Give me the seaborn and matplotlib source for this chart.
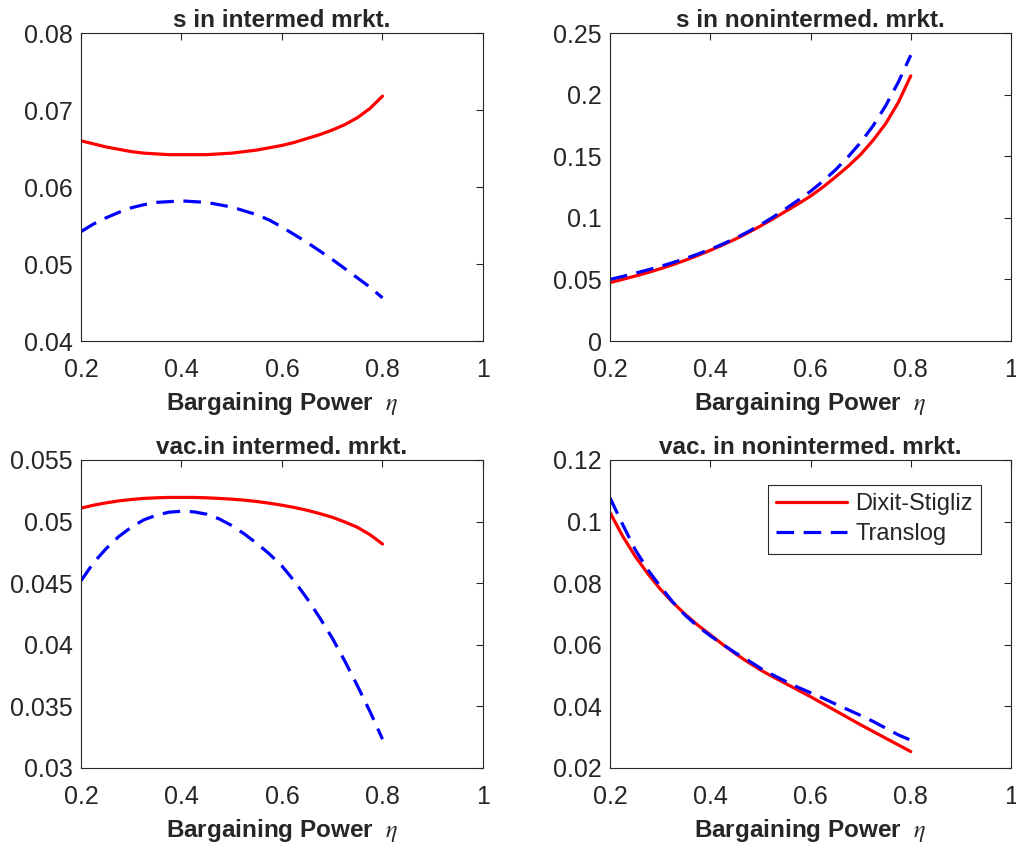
import numpy as np
import pandas as pd
import seaborn as sb
import matplotlib
matplotlib.use("Agg")
import matplotlib.pyplot as plt

# bargaining power grid
eta = [0.2, 0.225, 0.25, 0.275, 0.3, 0.325, 0.35, 0.375, 0.4, 0.425, 0.45, 0.475, 0.5,
       0.525, 0.55, 0.575, 0.6, 0.625, 0.65, 0.675, 0.7, 0.725, 0.75, 0.775, 0.8]

# s in intermed mrkt.
s_int_ds = [0.0660, 0.0656, 0.0652, 0.0649, 0.0646, 0.0644, 0.0643, 0.0642, 0.0642, 0.0642, 0.0642, 0.0643, 0.0644,
            0.0646, 0.0648, 0.0651, 0.0654, 0.0658, 0.0663, 0.0668, 0.0674, 0.0681, 0.0690, 0.0702, 0.0718]
s_int_tl = [0.0542, 0.0552, 0.0560, 0.0567, 0.0573, 0.0577, 0.0580, 0.0581, 0.0582, 0.0581, 0.0580, 0.0577, 0.0574,
            0.0569, 0.0564, 0.0557, 0.0548, 0.0538, 0.0528, 0.0517, 0.0506, 0.0494, 0.0482, 0.0470, 0.0456]

# s in nonintermed. mrkt.
s_non_ds = [0.0474, 0.0500, 0.0527, 0.0555, 0.0586, 0.0619, 0.0655, 0.0694, 0.0736, 0.0780, 0.0827, 0.0878, 0.0933,
            0.0991, 0.1052, 0.1112, 0.1176, 0.1250, 0.1332, 0.1418, 0.1514, 0.1630, 0.1765, 0.1935, 0.2152]
s_non_tl = [0.0500, 0.0524, 0.0550, 0.0577, 0.0605, 0.0636, 0.0669, 0.0705, 0.0744, 0.0787, 0.0834, 0.0886, 0.0943,
            0.1005, 0.1072, 0.1142, 0.1215, 0.1298, 0.1390, 0.1495, 0.1612, 0.1748, 0.1910, 0.2100, 0.2320]

# vac.in intermed. mrkt.
v_int_ds = [0.05109, 0.05133, 0.05152, 0.05168, 0.05179, 0.05188, 0.05193, 0.05196, 0.05196, 0.05196, 0.05193,
            0.05188, 0.05182, 0.05174, 0.05163, 0.05149, 0.05133, 0.05114, 0.05092, 0.05065, 0.05035, 0.04997,
            0.04954, 0.04894, 0.04818]
v_int_tl = [0.04519, 0.04666, 0.04780, 0.04878, 0.04954, 0.05014, 0.05052, 0.05076, 0.05084, 0.05079, 0.05060,
            0.05022, 0.04968, 0.04900, 0.04823, 0.04737, 0.04639, 0.04515, 0.04375, 0.04220, 0.04055, 0.03868,
            0.03668, 0.03459, 0.03234]

# vac. in nonintermed. mrkt.
v_non_ds = [0.10293, 0.09533, 0.08880, 0.08315, 0.07815, 0.07380, 0.06989, 0.06641, 0.06326, 0.06010, 0.05713,
            0.05440, 0.05185, 0.04960, 0.04745, 0.04530, 0.04315, 0.04087, 0.03859, 0.03630, 0.03402, 0.03185,
            0.02967, 0.02750, 0.02533]
v_non_tl = [0.10772, 0.09913, 0.09098, 0.08446, 0.07902, 0.07390, 0.06960, 0.06598, 0.06293, 0.06011, 0.05739,
            0.05500, 0.05239, 0.05021, 0.04815, 0.04619, 0.04445, 0.04265, 0.04075, 0.03891, 0.03706, 0.03511,
            0.03293, 0.03076, 0.02902]

titles = ["s in intermed mrkt.", "s in nonintermed. mrkt.",
          "vac.in intermed. mrkt.", "vac. in nonintermed. mrkt."]
ylims = [(0.04, 0.08), (0, 0.25), (0.03, 0.055), (0.02, 0.12)]
yticks = [[0.04, 0.05, 0.06, 0.07, 0.08], [0, 0.05, 0.1, 0.15, 0.2, 0.25],
          [0.03, 0.035, 0.04, 0.045, 0.05, 0.055], [0.02, 0.04, 0.06, 0.08, 0.1, 0.12]]
series = [(s_int_ds, s_int_tl), (s_non_ds, s_non_tl),
          (v_int_ds, v_int_tl), (v_non_ds, v_non_tl)]

sb.set_style("white")
plt.rcParams['font.family'] = ['Liberation Sans', 'DejaVu Sans']
plt.rcParams['mathtext.fontset'] = 'stix'
dark = '#262626'

fig = plt.figure(figsize=(10.16, 8.42), dpi=100)
boxes = [[0.0797, 0.595, 0.3957, 0.3658], [0.6004, 0.595, 0.3947, 0.3658],
         [0.0797, 0.0879, 0.3957, 0.3658], [0.6004, 0.0879, 0.3947, 0.3658]]

for i in range(4):
    ax = fig.add_axes(boxes[i])
    ds, tl = series[i]
    sb.lineplot(x=eta, y=ds, ax=ax, color=(1, 0, 0), lw=2.3, label='Dixit-Stigliz', legend=False)
    sb.lineplot(x=eta, y=tl, ax=ax, color=(0, 0, 1), lw=2.3, label='Translog', legend=False)
    ax.lines[1].set_dashes([5.5, 3.0])
    ax.set_xlim(0.2, 1)
    ax.set_ylim(*ylims[i])
    ax.set_xticks([0.2, 0.4, 0.6, 0.8, 1])
    ax.set_yticks(yticks[i])
    ax.xaxis.set_major_formatter(matplotlib.ticker.FormatStrFormatter('%g'))
    ax.yaxis.set_major_formatter(matplotlib.ticker.FormatStrFormatter('%g'))
    ax.tick_params(direction='in', top=True, right=True, length=5, width=0.8,
                   color=dark, labelcolor=dark, labelsize=18)
    ax.tick_params(axis='x', pad=12)
    ax.tick_params(axis='y', pad=6)
    for sp in ax.spines.values():
        sp.set_color(dark)
        sp.set_linewidth(0.8)
    ax.set_title(titles[i], fontsize=17.5, fontweight='bold', pad=4)
    ax.set_xlabel(r'Bargaining Power  $\eta$', fontsize=17.5, fontweight='bold', color=dark, labelpad=6)
    ax.set_ylabel('')
    if i == 3:
        leg = ax.legend(loc='upper right', fontsize=17, handlelength=3.0,
                        fancybox=False, framealpha=1, edgecolor=dark,
                        bbox_to_anchor=(0.925, 0.919), borderaxespad=0, borderpad=0.35,
                        labelspacing=0.35, handletextpad=0.35)
        leg.get_frame().set_linewidth(0.8)

fig.savefig('out.png', dpi=100)
